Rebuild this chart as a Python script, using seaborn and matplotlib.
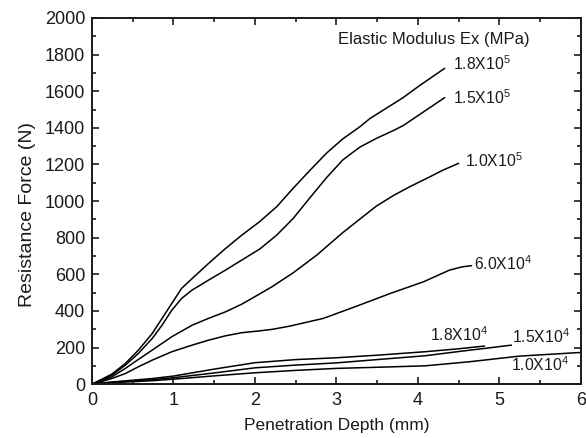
import matplotlib
matplotlib.use("Agg")
import matplotlib.pyplot as plt
from matplotlib.ticker import MultipleLocator
import seaborn as sns
import pandas as pd

# Resistance force vs. penetration depth for each elastic modulus Ex (MPa)
x_18e5 = [0, 0.1, 0.245, 0.41, 0.57, 0.74, 0.86, 0.98, 1.10, 1.23, 1.43, 1.64, 1.84, 2.06, 2.27,
          2.47, 2.67, 2.88, 3.08, 3.29, 3.41, 3.57, 3.82, 4.02, 4.33]
y_18e5 = [0, 22, 55, 113, 186, 277, 359, 441, 523, 577, 659, 741, 814, 888, 970,
          1070, 1165, 1262, 1340, 1406, 1450, 1495, 1565, 1630, 1725]

x_15e5 = [0, 0.1, 0.245, 0.41, 0.57, 0.74, 0.86, 0.98, 1.10, 1.23, 1.43, 1.64, 1.84, 2.06, 2.27,
          2.47, 2.67, 2.88, 3.08, 3.29, 3.49, 3.70, 3.82, 4.02, 4.33]
y_15e5 = [0, 20, 49, 104, 168, 250, 322, 404, 468, 514, 568, 623, 678, 738, 815,
          905, 1015, 1128, 1225, 1295, 1342, 1385, 1412, 1472, 1565]

x_10e5 = [0, 0.1, 0.245, 0.41, 0.57, 0.74, 0.98, 1.23, 1.43, 1.64, 1.84, 2.04, 2.21, 2.47,
          2.76, 3.08, 3.29, 3.49, 3.70, 3.90, 4.11, 4.31, 4.50]
y_10e5 = [0, 16, 40, 86, 135, 186, 259, 322, 359, 395, 437, 488, 532, 608,
          705, 828, 902, 972, 1030, 1078, 1124, 1169, 1206]

x_60e4 = [0, 0.1, 0.245, 0.41, 0.57, 0.74, 0.98, 1.23, 1.43, 1.64, 1.84, 2.04, 2.21, 2.43,
          2.84, 3.25, 3.66, 4.07, 4.39, 4.55, 4.66]
y_60e4 = [0, 12, 31, 58, 95, 131, 177, 213, 240, 264, 281, 290, 299, 317,
          359, 426, 495, 559, 623, 641, 647]

x_18e4 = [0, 0.25, 0.49, 0.75, 1.0, 1.5, 2.0, 2.5, 3.0, 3.5, 4.09, 4.5, 4.82]
y_18e4 = [0, 12, 21, 31, 44, 82, 117, 134, 144, 158, 177, 193, 208]

x_15e4 = [0, 0.25, 0.49, 0.75, 1.0, 1.5, 2.0, 2.5, 3.0, 3.5, 4.09, 4.5, 4.82, 5.15]
y_15e4 = [0, 10, 17, 25, 35, 61, 89, 104, 116, 134, 155, 178, 195, 213]

x_10e4 = [0, 0.25, 0.49, 0.75, 1.0, 1.5, 2.0, 2.5, 3.0, 3.5, 4.09, 4.63, 5.25, 6.0]
y_10e4 = [0, 8, 13, 19, 27, 45, 62, 75, 86, 92, 100, 122, 153, 173]

series_names = ["1.8X10$^5$", "1.5X10$^5$", "1.0X10$^5$", "6.0X10$^4$",
                "1.8X10$^4$", "1.5X10$^4$", "1.0X10$^4$"]
series_x = [x_18e5, x_15e5, x_10e5, x_60e4, x_18e4, x_15e4, x_10e4]
series_y = [y_18e5, y_15e5, y_10e5, y_60e4, y_18e4, y_15e4, y_10e4]

# label anchor (left edge, vertical centre) in data coordinates
label_x = [4.43, 4.43, 4.58, 4.69, 4.15, 5.16, 5.15]
label_y = [1748, 1565, 1218, 656, 268, 258, 104]

frames = []
for name, xs, ys in zip(series_names, series_x, series_y):
    frames.append(pd.DataFrame({"depth": xs, "force": ys, "Ex": name}))
df = pd.concat(frames, ignore_index=True)

sns.set_style("ticks")
plt.rcParams["font.family"] = ["Liberation Sans", "DejaVu Sans"]
plt.rcParams["mathtext.fontset"] = "custom"
plt.rcParams["mathtext.rm"] = "Liberation Sans"
plt.rcParams["mathtext.it"] = "Liberation Sans"

ink = "#1a1a1a"
fig = plt.figure(figsize=(5.86, 4.38), dpi=100)
ax = fig.add_axes([0.157, 0.123, 0.834, 0.836])

sns.lineplot(data=df, x="depth", y="force", units="Ex", estimator=None,
             sort=False, color="black", linewidth=1.1, ax=ax, legend=False)

for name, lx, ly in zip(series_names, label_x, label_y):
    ax.text(lx, ly, name, fontsize=11.3, ha="left", va="center", color=ink)

ax.text(3.02, 1880, "Elastic Modulus Ex (MPa)", fontsize=12, ha="left",
        va="center", color=ink)

ax.set_xlim(0, 6)
ax.set_ylim(0, 2000)
ax.xaxis.set_major_locator(MultipleLocator(1))
ax.xaxis.set_minor_locator(MultipleLocator(0.5))
ax.yaxis.set_major_locator(MultipleLocator(200))
ax.yaxis.set_minor_locator(MultipleLocator(100))
ax.tick_params(which="both", direction="in", top=True, right=True,
               width=1.2, colors=ink, labelsize=13)
ax.tick_params(which="major", length=5)
ax.tick_params(which="minor", length=3)
ax.tick_params(axis="x", pad=6)
ax.tick_params(axis="y", pad=5)
for sp in ax.spines.values():
    sp.set_linewidth(1.4)
    sp.set_color(ink)

ax.set_xlabel("Penetration Depth (mm)", fontsize=12.5, color=ink, labelpad=6)
ax.set_ylabel("Resistance Force (N)", fontsize=14, color=ink)
ax.yaxis.set_label_coords(-0.115, 0.464)

fig.savefig("out.png", dpi=100)
